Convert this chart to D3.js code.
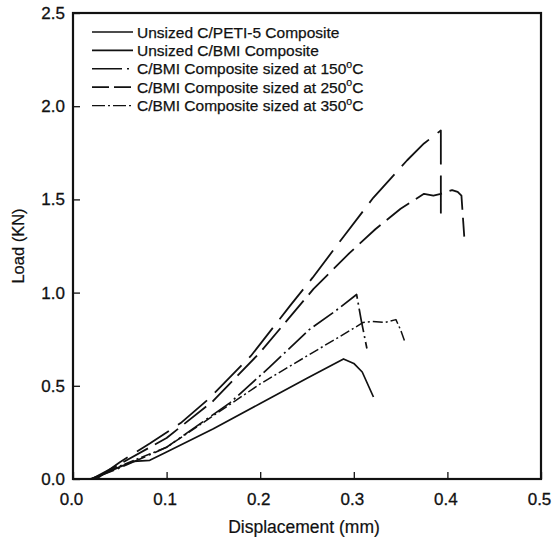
<!DOCTYPE html>
<html>
<head>
<meta charset="utf-8">
<script src="https://cdn.jsdelivr.net/npm/d3@7"></script>
<style>
  body { margin: 0; background: #fff; }
  text { font-family: "Liberation Sans", Arial, sans-serif; fill: #111; }
</style>
</head>
<body>
<svg width="553" height="543"></svg>
<script>
// series: [displacement mm, load kN]
const peti5Unsized = [[0.018,0],[0.03,0.02],[0.05,0.065],[0.065,0.095],[0.082,0.10],[0.1,0.145],[0.15,0.27],[0.2,0.405],[0.25,0.54],[0.289,0.644],[0.30,0.62],[0.309,0.574],[0.321,0.44]]
const bmiUnsized = [[0.02,0],[0.05,0.08],[0.1,0.22],[0.15,0.42],[0.2,0.68],[0.257,1.02],[0.295,1.21],[0.323,1.34],[0.35,1.45],[0.375,1.53],[0.385,1.52],[0.393,1.53],[0.405,1.55],[0.411,1.54],[0.415,1.52],[0.418,1.30]]
const sized150 = [[0.02,0],[0.05,0.06],[0.1,0.17],[0.168,0.41],[0.21,0.60],[0.252,0.80],[0.28,0.90],[0.303,0.99],[0.308,0.85],[0.314,0.70]]
const sized250 = [[0.025,0],[0.05,0.09],[0.082,0.19],[0.115,0.30],[0.145,0.43],[0.19,0.66],[0.232,0.93],[0.256,1.08],[0.289,1.30],[0.321,1.51],[0.357,1.71],[0.375,1.80],[0.393,1.87],[0.393,1.40]]
const sized350 = [[0.02,0],[0.05,0.07],[0.08,0.13],[0.1,0.17],[0.15,0.34],[0.2,0.51],[0.25,0.66],[0.297,0.80],[0.31,0.84],[0.32,0.845],[0.333,0.84],[0.345,0.855],[0.35,0.80],[0.355,0.73]]

const xTicks = [0.0, 0.1, 0.2, 0.3, 0.4, 0.5]
const yTicks = [0.0, 0.5, 1.0, 1.5, 2.0, 2.5]

const curves = [
  {pts: peti5Unsized, dash: null, w: 1.7},
  {pts: bmiUnsized, dash: '28 8', w: 1.8},
  {pts: sized150, dash: '24 4 2 4', w: 1.7},
  {pts: sized250, dash: '38 11', w: 1.8},
  {pts: sized350, dash: '10 3 2 3', w: 1.5}
]

const legendRows = [
  {label: 'Unsized C/PETI-5 Composite', sup: null, dash: null, w: 1.3},
  {label: 'Unsized C/BMI Composite', sup: null, dash: null, w: 1.8},
  {label: 'C/BMI Composite sized at 150', sup: 'o', dash: '30 5 2 20', w: 1.5},
  {label: 'C/BMI Composite sized at 250', sup: 'o', dash: '17 5', w: 1.8},
  {label: 'C/BMI Composite sized at 350', sup: 'o', dash: '13 3 2 3', w: 1.3}
]

function draw() {
  const svg = d3.select('svg')
  const left = 73, right = 541, top = 13, bottom = 479

  const x = d3.scaleLinear().domain([0, 0.5]).range([left, right])
  const y = d3.scaleLinear().domain([0, 2.5]).range([bottom, top])

  // frame
  svg.append('rect')
    .attr('x', left).attr('y', top)
    .attr('width', right - left).attr('height', bottom - top)
    .attr('fill', 'none').attr('stroke', '#111').attr('stroke-width', 2.2)

  let xAxis = svg.append('g')
    .attr('transform', `translate(0,${bottom})`)
    .call(d3.axisBottom(x).tickValues(xTicks).tickSizeInner(-7).tickSizeOuter(0).tickPadding(14).tickFormat(d3.format('.1f')))
  xAxis.select('.domain').remove()
  xAxis.selectAll('line').attr('stroke', '#111').attr('stroke-width', 1.3)
  xAxis.selectAll('text').attr('font-size', 17).attr('dx', -2)

  let yAxis = svg.append('g')
    .attr('transform', `translate(${left},0)`)
    .call(d3.axisLeft(y).tickValues(yTicks).tickSizeInner(-7).tickSizeOuter(0).tickPadding(8).tickFormat(d3.format('.1f')))
  yAxis.select('.domain').remove()
  yAxis.selectAll('line').attr('stroke', '#111').attr('stroke-width', 1.3)
  yAxis.selectAll('text').attr('font-size', 17)

  svg.selectAll('.tick text')
    .attr('font-family', '"Liberation Sans", Arial, sans-serif')
    .attr('fill', '#111').attr('stroke', '#111').attr('stroke-width', 0.3)

  svg.append('text')
    .attr('x', 304).attr('y', 533)
    .attr('text-anchor', 'middle').attr('font-size', 17.5)
    .attr('stroke', '#111').attr('stroke-width', 0.2)
    .text('Displacement (mm)')

  svg.append('text')
    .attr('transform', 'translate(24,246) rotate(-90)')
    .attr('text-anchor', 'middle').attr('font-size', 16.5)
    .attr('stroke', '#111').attr('stroke-width', 0.2)
    .text('Load (KN)')

  const line = d3.line().x(d => x(d[0])).y(d => y(d[1]))

  svg.append('g').selectAll('path')
    .data(curves)
    .join('path')
    .attr('d', d => line(d.pts))
    .attr('fill', 'none')
    .attr('stroke', '#111')
    .attr('stroke-width', d => d.w)
    .attr('stroke-linejoin', 'round')
    .attr('stroke-dasharray', d => d.dash)

  // legend
  let lg = svg.append('g')
  legendRows.forEach(function(r, i) {
    let ly = 32 + i * 18.4
    lg.append('line')
      .attr('x1', 92).attr('x2', 133)
      .attr('y1', ly).attr('y2', ly)
      .attr('stroke', '#111').attr('stroke-width', r.w)
      .attr('stroke-dasharray', r.dash)
    let t = lg.append('text')
      .attr('x', 137).attr('y', ly + 5.5)
      .attr('font-size', 15.5)
      .attr('stroke', '#111').attr('stroke-width', 0.25)
      .text(r.label)
    if (r.sup) {
      t.append('tspan').attr('font-size', 10.5).attr('dy', -6.5).text(r.sup)
      t.append('tspan').attr('dy', 6.5).text('C')
    }
  })
}

draw()
</script>
</body>
</html>
